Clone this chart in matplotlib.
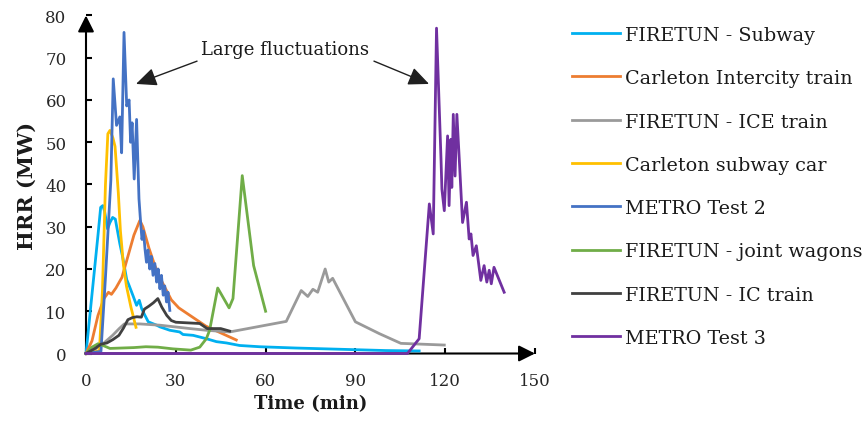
import matplotlib
matplotlib.use("Agg")
import matplotlib.pyplot as plt

# ---------------- data ----------------
series_names = ["FIRETUN - Subway", "Carleton Intercity train", "FIRETUN - ICE train",
                "Carleton subway car", "METRO Test 2", "FIRETUN - joint wagons",
                "FIRETUN - IC train", "METRO Test 3"]

subway_t = [0, 1, 2, 3, 4, 4.9, 5.6, 6.2, 7.2, 8, 8.9, 9.8, 11.3, 12.2, 13.6, 14.4, 15.8, 16.9,
            17.8, 18.6, 19.7, 20.8, 23.6, 24.7, 28, 31.3, 32.4, 35.8, 40.2, 43.6, 46.9, 51.3, 58,
            70, 80, 90, 100, 111.3]
subway_hrr = [0, 7, 14, 21, 28, 34.6, 35, 33.7, 29.5, 31, 32.2, 31.8, 26, 23, 17.5, 16.1, 13.5,
              11.4, 12.6, 10.6, 9, 7.5, 6.7, 6.3, 5.5, 5.1, 4.5, 4.3, 3.5, 2.8, 2.5, 1.9, 1.6,
              1.3, 1.1, 0.9, 0.7, 0.6]

intercity_t = [0, 2, 4, 6, 7.5, 8.5, 10, 12, 14, 16, 18, 19, 21, 23, 25, 28.5, 31, 40, 50.2]
intercity_hrr = [0, 3, 9, 13, 14.5, 14, 15.5, 18, 23, 28, 31.5, 30, 25, 20.8, 17.5, 12.7, 10.8, 6.5, 3.2]

ice_t = [0, 3, 6, 8.9, 11.1, 12.8, 18, 24.7, 34.7, 40.2, 48, 66.9, 71.9, 74.1, 75.8, 77.4, 79.9,
         81.1, 82.4, 90, 98, 105.2, 119.7]
ice_hrr = [0, 1, 2.5, 4.3, 5.9, 7, 7, 6.7, 5.9, 5.5, 5.1, 7.6, 14.9, 13.5, 15.2, 14.5, 20, 16.9,
           17.8, 7.5, 4.7, 2.4, 2.0]

subcar_t = [0, 2, 4.5, 5.5, 6.5, 7.3, 8, 9, 9.7, 10.8, 11.5, 12.5, 13.5, 15, 16.7]
subcar_hrr = [0, 0.2, 0.7, 15, 40, 52, 52.8, 51, 49, 38, 29, 21, 16, 11, 6.2]

metro2_t = [0, 5, 6.5, 8.3, 9.1, 10.2, 11.3, 11.9, 12.7, 13.6, 14.4, 14.9, 15.4, 16.1, 16.9, 17.7,
            18.2, 18.7, 19.2, 19.7, 20.2, 20.7, 21.3, 21.8, 22.4, 23.0, 23.6, 24.1, 24.7, 25.2,
            25.8, 26.3, 26.9, 27.4, 28]
metro2_hrr = [0, 0.5, 18, 41, 65, 54, 56, 47.5, 76, 58.6, 60, 50, 54.6, 41.3, 55.4, 36.6, 31.5,
              27, 29, 24.8, 21.6, 24.5, 20, 23, 18.5, 21.3, 16.9, 20, 15.3, 18.5, 13.8, 16, 12.2,
              14.5, 10.2]

joint_t = [0, 2, 4, 6, 8, 12, 16, 20, 24, 29, 35, 38, 40.2, 41.3, 44, 47.8, 49.1, 52.2, 56, 60]
joint_hrr = [0, 1.5, 2.3, 1.8, 1.2, 1.3, 1.4, 1.6, 1.5, 1.1, 0.8, 1.5, 3.5, 5.5, 15.5, 10.8, 13,
             42.1, 20.8, 10]

ic_t = [0, 3, 5, 7, 9, 11, 12.5, 14, 15.5, 17, 18.5, 19.5, 21, 22.5, 24, 25.3, 27, 28.5, 30, 38,
        40.5, 45, 48]
ic_hrr = [0, 1.2, 2.2, 2.5, 3.3, 4.3, 6, 8, 8.5, 8.7, 8.6, 10.5, 11.2, 12, 13, 11, 9, 7.8, 7.4,
          7.1, 5.9, 5.9, 5.3]

metro3_t = [0, 107.4, 111.3, 114.7, 116, 117.1, 118.6, 118.9, 119.7, 120.8, 121.3, 121.9, 122.2,
            122.7, 123.3, 123.9, 124.7, 125.8, 127.1, 128, 128.6, 129.3, 130.4, 131.9, 133,
            133.9, 134.7, 135.4, 136.3, 139.7]
metro3_hrr = [0, 0, 3.5, 35.4, 28.3, 77, 46, 38.9, 33.8, 51.5, 35, 50.7, 39.3, 56.6, 42, 56.6,
              46, 31, 35.8, 27.1, 28.3, 23.2, 25.5, 17.3, 20.8, 16.9, 19.7, 16.5, 20.4, 14.5]

x_ticks = [0, 30, 60, 90, 120, 150]
y_ticks = [0, 10, 20, 30, 40, 50, 60, 70, 80]
annotation_text = "Large fluctuations"

# ---------------- style ----------------
colors = ["#00B0F0", "#ED7D31", "#9A9A9A", "#FFC000", "#4472C4", "#70AD47", "#404040", "#7030A0"]
serif = "DejaVu Serif"

fig = plt.figure(figsize=(8.66, 4.27), dpi=100)
ax = fig.add_axes([86 / 866, 1 - 354.5 / 427, 449 / 866, 338 / 427])

data = [(subway_t, subway_hrr), (intercity_t, intercity_hrr), (ice_t, ice_hrr),
        (subcar_t, subcar_hrr), (metro2_t, metro2_hrr), (joint_t, joint_hrr),
        (ic_t, ic_hrr), (metro3_t, metro3_hrr)]
handles = []
for (t, h), name, c in zip(data, series_names, colors):
    ln, = ax.plot(t, h, color=c, lw=2.0, label=name, clip_on=False, zorder=3,
                  solid_joinstyle="round")
    handles.append(ln)

ax.set_xlim(0, 150)
ax.set_ylim(0, 80)
ax.set_xticks(x_ticks)
ax.set_yticks(y_ticks)
for s in ax.spines.values():
    s.set_visible(False)

# axis lines with arrow heads
arrow_kw = dict(arrowstyle="-|>,head_length=0.7,head_width=0.35", lw=1.5, color="black",
                shrinkA=0, shrinkB=0, mutation_scale=14)
ax.annotate("", xy=(0, 1), xytext=(0, 0), xycoords="axes fraction",
            arrowprops=arrow_kw, zorder=2, annotation_clip=False)
ax.annotate("", xy=(1, 0), xytext=(0, 0), xycoords="axes fraction",
            arrowprops=arrow_kw, zorder=2, annotation_clip=False)

ax.tick_params(axis="both", direction="in", length=4, width=1.5, color="black",
               labelsize=12, labelcolor="#262626")
ax.tick_params(axis="y", pad=14)
ax.tick_params(axis="x", pad=13)
for lab in ax.get_xticklabels() + ax.get_yticklabels():
    lab.set_family(serif)

ax.set_xlabel("Time (min)", fontsize=13, fontweight="bold", family=serif, labelpad=4,
              color="#1a1a1a")
ax.set_ylabel("HRR (MW)", fontsize=15, fontweight="bold", family=serif, labelpad=6,
              color="#1a1a1a")

# annotation
ax.text(66.5, 72, annotation_text, fontsize=13, family=serif, ha="center", va="center",
        color="#1a1a1a")
ann_kw = dict(arrowstyle="-|>,head_length=0.9,head_width=0.4", lw=1.0, color="#202020",
              shrinkA=0, shrinkB=0, mutation_scale=14)
ax.annotate("", xy=(16.7, 63.8), xytext=(37.1, 69.2), arrowprops=ann_kw)
ax.annotate("", xy=(114.6, 63.8), xytext=(96.2, 69.2), arrowprops=ann_kw)

fig.legend(handles, series_names, loc="upper left", bbox_to_anchor=(571.7 / 866, 0.937),
           bbox_transform=fig.transFigure, frameon=False, borderpad=0, borderaxespad=0,
           handlelength=2.5, handletextpad=0.27, labelspacing=1.32,
           prop={"family": serif, "size": 13.8})
for txt in fig.legends[0].get_texts():
    txt.set_color("#1a1a1a")

fig.savefig("out.png", dpi=100)
